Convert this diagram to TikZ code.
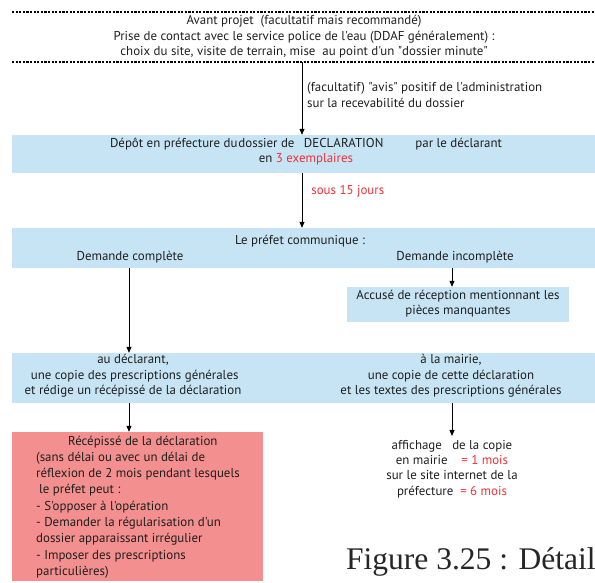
\documentclass[tikz,border=0pt]{standalone}
\usepackage{fontspec}
\setmainfont{PT Sans}[Ligatures=TeXOff]
\newfontfamily\capfont{Liberation Serif}
\usetikzlibrary{arrows.meta}
\definecolor{boxblue}{RGB}{198,228,244}
\definecolor{boxred}{RGB}{243,143,143}
\definecolor{txtred}{RGB}{236,50,56}
\begin{document}
\begin{tikzpicture}[x=1pt,y=-1pt,
  every node/.style={font=\fontsize{12.9}{15.6}\selectfont, text=black!88, inner sep=0pt},
  bluebox/.style={fill=boxblue, draw=none, inner sep=0pt},
  redbox/.style={fill=boxred, draw=none, inner sep=0pt},
  txt/.style={align=center},
  arr/.style={-{Triangle[length=6pt,width=5pt]}, line width=0.8pt},
  dotline/.style={line width=1.3pt, dash pattern=on 2.2pt off 1.4pt},
  rt/.style={text=txtred}]
\useasboundingbox (0,0) rectangle (595,583);
% dotted lines
\coordinate (d1a) at (12,12); \coordinate (d1b) at (595,12);
\coordinate (d2a) at (12,62); \coordinate (d2b) at (595,62);
\draw[dotline] (d1a) -- (d1b);
\draw[dotline] (d2a) -- (d2b);
\node[txt] (top) at (304,37) {Avant projet \ (facultatif mais recommandé)\\
Prise de contact avec le service police de l'eau (DDAF généralement) :\\
choix du site, visite de terrain, mise \ au point d'un "dossier minute"};
% boxes
\node[bluebox, minimum width=583pt, minimum height=38pt] (b1) at (303.5,154) {};
\node[bluebox, minimum width=583pt, minimum height=40pt] (b2) at (303.5,248) {};
\node[bluebox, minimum width=222pt, minimum height=35pt] (acc) at (458,304.5) {};
\node[bluebox, minimum width=583pt, minimum height=50pt] (b3) at (303.5,378) {};
\node[redbox, minimum width=251pt, minimum height=149pt] (red) at (137.5,506.5) {};
% texts
\node[anchor=west, align=left] (avis) at (307,95) {(facultatif) "avis" positif de l'administration\\sur la recevabilité du dossier};
\node[txt] (b1t) at (306,151.5) {Dépôt en préfecture du\hspace{1pt}dossier de \hspace{6pt}DECLARATION\hspace{32pt}par le déclarant\\
en {\color{txtred}3 exemplaires}};
\node[txt] (b2t) at (300,241) {Le préfet communique :};
\node[txt] (dc) at (130,257) {Demande complète};
\node[txt] (di) at (455,257) {Demande incomplète};
\node[txt] (acct) at (458,303.5) {Accusé de réception mentionnant les\\pièces manquantes};
\node[txt] (b3l) at (133,376) {au déclarant,\\ \ une copie des prescriptions générales\\et rédige un récépissé de la déclaration};
\node[txt] (b3r) at (451,376) {à la mairie,\\une copie de cette déclaration\\et les textes des prescriptions générales};
\node[anchor=west, align=left, font=\fontsize{12.9}{16.3}\selectfont] (redt) at (36,507) {\hspace*{32pt}Récépissé de la déclaration\\
(sans délai ou avec un délai de\\
réflexion de 2 mois pendant lesquels\\
\hspace*{3pt}le préfet peut :\\
- S'opposer à l'opération\\
- Demander la régularisation d'un\\
dossier apparaissant irrégulier\\
- Imposer des prescriptions\\
particulières)};
\node[txt, font=\fontsize{12.9}{15.3}\selectfont, inner ysep=4pt] (aff) at (452,469) {affichage \ \ de la copie\\
en mairie \ \ \ {\color{txtred}= 1 mois}\\
sur le site internet de la\\
préfecture \ {\color{txtred}= 6 mois}};
\node[anchor=base west, font=\capfont\fontsize{31.5}{31.5}\selectfont, text=black!85] (cap) at (346,569) {Figure 3.25 : Détail};
% connectors
\coordinate (a1s) at (302,62);
\coordinate (cl) at (129,0);
\coordinate (cr) at (452,0);
\draw[arr] (a1s) -- (b1.north -| a1s);
\draw[arr] (b1.south -| a1s) -- node[pos=0.33, right=9pt, text=txtred] (q) {sous 15 jours} (b2.north -| a1s);
\draw[arr] (b2.south -| cl) -- (b3.north -| cl);
\draw[arr] (b2.south -| cr) -- (acc.north -| cr);
\draw[arr] (b3.south -| cl) -- (red.north -| cl);
\draw[arr] (b3.south -| cr) -- (aff.north -| cr);
\end{tikzpicture}
\end{document}
